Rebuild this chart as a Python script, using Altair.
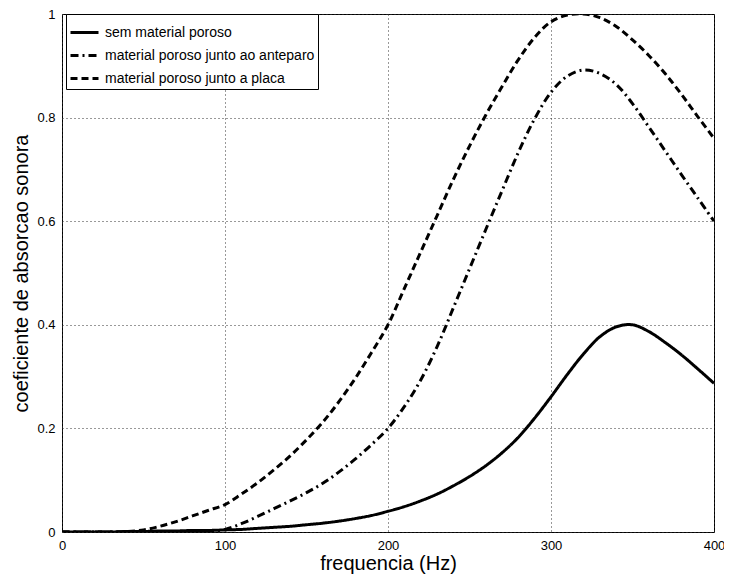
import altair as alt
import pandas as pd

freq = list(range(0, 401, 10))

sem_material = [0, 0, 0, 0, 0.001, 0.001, 0.002, 0.002, 0.003, 0.003,
                0.004, 0.005, 0.007, 0.009, 0.011, 0.014, 0.017, 0.021, 0.026, 0.032,
                0.040, 0.049, 0.060, 0.073, 0.089, 0.107, 0.128, 0.153, 0.183, 0.220,
                0.261, 0.304, 0.344, 0.377, 0.396, 0.400, 0.387, 0.366, 0.342, 0.315,
                0.287]

junto_anteparo = [0, 0, 0, 0, 0, 0, 0, 0, 0, 0.001,
                  0.005, 0.016, 0.030, 0.045, 0.060, 0.076, 0.094, 0.116, 0.141, 0.169,
                  0.200, 0.242, 0.293, 0.357, 0.432, 0.508, 0.584, 0.659, 0.733, 0.798,
                  0.849, 0.880, 0.892, 0.885, 0.864, 0.827, 0.782, 0.736, 0.690, 0.645,
                  0.600]

junto_placa = [0, 0, 0, 0, 0.001, 0.004, 0.011, 0.020, 0.031, 0.042,
               0.053, 0.073, 0.095, 0.120, 0.147, 0.178, 0.212, 0.252, 0.297, 0.347,
               0.400, 0.470, 0.540, 0.610, 0.680, 0.745, 0.805, 0.860, 0.912, 0.955,
               0.985, 0.998, 1.000, 0.993, 0.976, 0.950, 0.920, 0.885, 0.845, 0.802,
               0.760]

series_names = ["sem material poroso",
                "material poroso junto ao anteparo",
                "material poroso junto a placa"]

x_ticks = [0, 100, 200, 300, 400]
y_ticks = [0, 0.2, 0.4, 0.6, 0.8, 1]

rows = []
for name, vals in zip(series_names, [sem_material, junto_anteparo, junto_placa]):
    for f, v in zip(freq, vals):
        rows.append({"freq": f, "alpha": v, "serie": name})
df = pd.DataFrame(rows)

FONT = "Liberation Sans"

chart = alt.Chart(df).mark_line(
    color="black", strokeWidth=3, interpolate="catmull-rom", strokeCap="butt", clip=True
).encode(
    x=alt.X("freq:Q", scale=alt.Scale(domain=[0, 400], nice=False),
            axis=alt.Axis(title="frequencia (Hz)", values=x_ticks, format="d")),
    y=alt.Y("alpha:Q", scale=alt.Scale(domain=[0, 1], nice=False),
            axis=alt.Axis(title="coeficiente de absorcao sonora", values=y_ticks, format=".1~f")),
    strokeDash=alt.StrokeDash(
        "serie:N",
        scale=alt.Scale(domain=series_names, range=[[1, 0], [8, 4, 2, 4], [7, 4]]),
        legend=alt.Legend(title=None, orient="none", legendX=4, legendY=0,
                          symbolType="stroke", symbolSize=784, symbolStrokeWidth=3,
                          symbolStrokeColor="black", labelFont=FONT, labelFontSize=14,
                          labelColor="black", rowPadding=-7.5, labelOffset=5,
                          labelLimit=500,
                          strokeColor="black", fillColor="white", padding=3,
                          cornerRadius=0),
        sort=series_names,
    ),
    order=alt.Order("freq:Q"),
).properties(
    width=652, height=518,
    autosize=alt.AutoSizeParams(type="none"),
    padding={"left": 54, "top": 6, "right": 10, "bottom": 42},
).configure_view(
    stroke="black", strokeWidth=1
).configure_axis(
    grid=True, gridColor="#333333", gridDash=[1, 3], gridWidth=1, gridOpacity=1,
    domain=False, ticks=False, labelFlush=False,
    labelFont=FONT, labelFontSize=13, labelColor="black",
    titleFont=FONT, titleFontSize=20, titleFontWeight="normal", titleColor="black",
).configure_axisX(
    labelPadding=7, titlePadding=1
).configure_axisY(
    labelPadding=7, titlePadding=5
)

chart.save("out.html", embed_options={"renderer": "svg", "actions": False})
